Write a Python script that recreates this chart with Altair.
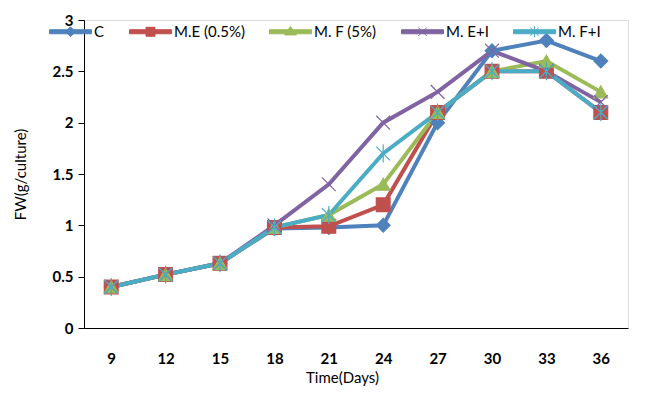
import altair as alt
import pandas as pd

days = [9, 12, 15, 18, 21, 24, 27, 30, 33, 36]
series = ["C", "M.E (0.5%)", "M. F (5%)", "M. E+I", "M. F+I"]
c_vals = [0.40, 0.52, 0.63, 0.97, 0.98, 1.00, 2.00, 2.70, 2.80, 2.60]
me_vals = [0.40, 0.52, 0.63, 0.98, 0.99, 1.20, 2.10, 2.50, 2.50, 2.10]
mf_vals = [0.40, 0.52, 0.63, 0.98, 1.10, 1.40, 2.10, 2.50, 2.60, 2.30]
mei_vals = [0.40, 0.52, 0.63, 1.00, 1.40, 2.00, 2.30, 2.70, 2.50, 2.20]
mfi_vals = [0.40, 0.52, 0.63, 0.98, 1.10, 1.70, 2.10, 2.50, 2.50, 2.10]
colors = ["#4F81BD", "#C0504D", "#9BBB59", "#8064A2", "#4BACC6"]
y_ticks = [0, 0.5, 1, 1.5, 2, 2.5, 3]

# marker shapes used on the plot
shapes = ["diamond", "square", "triangle-up",
          "M-1,-1L1,1M-1,1L1,-1",
          "M-1,-1L1,1M-1,1L1,-1M0,-1.3L0,1.3"]
# legend symbols: a line stub with the marker in its middle
stub = "M-3,-0.29L3,-0.29L3,0.29L-3,0.29Z"
legend_shapes = [
    stub + "M0,-0.7L0.7,0L0,0.7L-0.7,0Z",
    stub + "M-0.64,-0.64L0.64,-0.64L0.64,0.64L-0.64,0.64Z",
    stub + "M0,-0.75L0.85,0.45L-0.85,0.45Z",
    stub + "M-0.6,-0.6L0.6,0.6M-0.6,0.6L0.6,-0.6",
    stub + "M-0.6,-0.6L0.6,0.6M-0.6,0.6L0.6,-0.6M0,-0.8L0,0.8",
]

rows = []
for name, vals in zip(series, [c_vals, me_vals, mf_vals, mei_vals, mfi_vals]):
    for d, v in zip(days, vals):
        rows.append({"Day": d, "FW": v, "Series": name, "order": series.index(name)})
df = pd.DataFrame(rows)

font = "Lato"
x = alt.X("Day:O", title="Time(Days)",
          axis=alt.Axis(labelAngle=0, ticks=False, labelFontWeight="bold",
                        labelFontSize=15, labelPadding=23, titleFontSize=15,
                        titleFontWeight="normal", titlePadding=4, titleX=258,
                        domainColor="black", labelColor="black", titleColor="black"),
          scale=alt.Scale(paddingInner=0, paddingOuter=0.5))
y = alt.Y("FW:Q", title="FW(g/culture)",
          scale=alt.Scale(domain=[0, 3]),
          axis=alt.Axis(values=y_ticks, format="~g", grid=False, tickSize=6,
                        labelFontWeight="bold", labelFontSize=15, labelPadding=5,
                        titleFontSize=15, titleFontWeight="normal", titlePadding=24,
                        domainColor="black", tickColor="black",
                        labelColor="black", titleColor="black"))

def cscale():
    return alt.Scale(domain=series, range=colors)

lines = alt.Chart(df).mark_line(strokeWidth=4).encode(
    x=x, y=y, color=alt.Color("Series:N", scale=cscale(), legend=None),
    detail="Series:N", order="order:Q")
points = alt.Chart(df).mark_point(filled=True, size=190, strokeWidth=1.2, opacity=1).encode(
    x=x, y=y,
    color=alt.Color("Series:N", scale=cscale(), legend=None),
    shape=alt.Shape("Series:N", scale=alt.Scale(domain=series, range=shapes), legend=None),
    stroke=alt.Stroke("Series:N", scale=cscale(), legend=None))

leg = alt.Legend(title=None, orient="none", legendX=-21, legendY=4,
                 direction="horizontal", columns=5, labelFontSize=15, labelFont=font,
                 symbolSize=196, symbolStrokeWidth=1, labelOffset=16, columnPadding=22,
                 labelColor="black")
legend_layer = alt.Chart(df).transform_filter("false").mark_point(
    filled=True, opacity=1).encode(
    x=x, y=y,
    color=alt.Color("Series:N", scale=cscale(), legend=leg),
    shape=alt.Shape("Series:N", scale=alt.Scale(domain=series, range=legend_shapes), legend=leg),
    stroke=alt.Stroke("Series:N", scale=cscale(), legend=leg))

chart = alt.layer(lines, points, legend_layer).resolve_scale(
    color="independent", shape="independent", stroke="independent"
).resolve_legend(
    color="independent", shape="independent", stroke="independent"
).properties(width=544, height=308).configure_view(stroke=None).configure(font=font)

chart.save("out.html", embed_options={"renderer": "svg", "actions": False})
